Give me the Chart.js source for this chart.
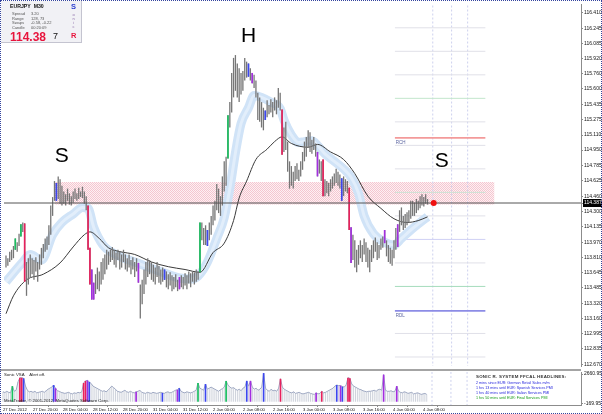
<!DOCTYPE html>
<html>
<head>
<meta charset="utf-8">
<title>EURJPY M30</title>
<script src="https://cdn.jsdelivr.net/npm/chart.js@4.4.1/dist/chart.umd.min.js"></script>
<style>
  html, body { margin: 0; padding: 0; background: #fff; }
  #wrap { position: relative; width: 602px; height: 414px; overflow: hidden; background: #fff;
          font-family: "Liberation Sans", Arial, sans-serif; }
  canvas { position: absolute; left: 0; }
  #graficaPrecio { top: 0; }
  #graficaVolumen { top: 370px; }
  #separador { position: absolute; left: 0; top: 369px; width: 581px; height: 2px; background: #a4a4a4; }
  #marco { position: absolute; left: 0; top: 0; width: 602px; height: 414px; box-sizing: border-box;
           border: 1px dotted #34449e; pointer-events: none; }
  .t { position: absolute; white-space: nowrap; line-height: 1; }
  #info { position: absolute; left: 1px; top: 1px; width: 80px; height: 41px; background: #f1f1f5;
          border-right: 1px solid #c4c4d0; border-bottom: 1px solid #c4c4d0; }
  #info .p { font-size: 4px; color: #555; }
  .tit { font-size: 4.4px; font-weight: bold; color: #333; letter-spacing: 0.25px; }
  .nov { font-size: 3.7px; color: #2424dc; }
  .pie { font-size: 4.3px; color: #222; }
</style>
</head>
<body>
<div id="wrap">
  <canvas id="graficaPrecio" width="602" height="370"></canvas>
  <canvas id="graficaVolumen" width="602" height="44"></canvas>
  <div id="separador"></div>

  <!-- 🧾 Recuadro de información del símbolo -->
  <div id="info">
    <div class="t" style="left:9px;top:3px;font-size:5.2px;font-weight:bold;color:#111">EURJPY&nbsp;&nbsp;M30</div>
    <div class="t" style="left:70px;top:2px;font-size:7.5px;font-weight:bold;color:#2a3ccf">S</div>
    <div class="t p" style="left:11px;top:11px">Spread</div><div class="t p" style="left:30px;top:11px">3.20</div>
    <div class="t p" style="left:11px;top:15.5px">Range</div><div class="t p" style="left:30px;top:15.5px">128, 73</div>
    <div class="t p" style="left:11px;top:20px">Swaps</div><div class="t p" style="left:30px;top:20px">-0.58, -0.22</div>
    <div class="t p" style="left:11px;top:24.5px">Candle</div><div class="t p" style="left:30px;top:24.5px">00:20:09</div>
    <div class="t" style="left:71.5px;top:12px;font-size:4px;color:#8a6aa8">o</div>
    <div class="t" style="left:71.5px;top:16px;font-size:4px;color:#8a6aa8">n</div>
    <div class="t" style="left:72px;top:20px;font-size:4px;color:#8a6aa8">i</div>
    <div class="t" style="left:71.5px;top:24px;font-size:4px;color:#8a6aa8">c</div>
    <div class="t" style="left:9px;top:30px;font-size:12px;font-weight:bold;color:#e8143c">114.38</div>
    <div class="t" style="left:52px;top:31px;font-size:9px;color:#111">7</div>
    <div class="t" style="left:70px;top:31px;font-size:7.5px;font-weight:bold;color:#e8143c">R</div>
  </div>

  <!-- 📰 Textos del panel del indicador -->
  <div class="t pie" style="left:4px;top:373px">Sonic VSA&nbsp;&nbsp;&nbsp;&nbsp;Alert off.</div>
  <div class="t pie" style="left:4px;top:398.5px">MetaTrader, © 2001-2012, MetaQuotes Software Corp.</div>
  <div class="t tit" style="left:476px;top:374.5px">SONIC R. SYSTEM FFCAL HEADLINES:</div>
  <div class="t nov" style="left:476px;top:382px">2 mins since EUR: German Retail Sales m/m</div>
  <div class="t nov" style="left:476px;top:387px">1 hrs 13 mins until EUR: Spanish Services PMI</div>
  <div class="t nov" style="left:476px;top:392px">1 hrs 40 mins until EUR: Italian Services PMI</div>
  <div class="t nov" style="left:476px;top:397px;color:#149a14">1 hrs 50 mins until EUR: Final Services PMI</div>

  <div id="marco"></div>
</div>

<script>
// 📊 Datos (EURJPY M30)
const etiquetasTiempo = ['27 Dec 2012', '27 Dec 20:00', '28 Dec 04:00', '28 Dec 12:00', '28 Dec 20:00',
  '31 Dec 04:00', '31 Dec 12:00', '2 Jan 00:00', '2 Jan 08:00', '2 Jan 16:00', '3 Jan 00:00',
  '3 Jan 08:00', '3 Jan 16:00', '4 Jan 00:00', '4 Jan 08:00'];
const velasPorEtiqueta = 16;

const etiquetasPrecio = [116.410, 116.245, 116.085, 115.920, 115.760, 115.600, 115.435, 115.275,
  115.110, 114.950, 114.785, 114.625, 114.460, 114.300, 114.135, 113.970, 113.810, 113.645,
  113.485, 113.320, 113.160, 112.995, 112.835, 112.670];
const precioActual = 114.387;

const maximos = [
  113.83, 113.80, 113.87, 113.89, 113.93, 114.01, 113.97, 114.06, 114.16, 114.18,
  114.17, 113.76, 113.80, 113.84, 113.80, 113.78, 113.81, 113.76, 113.84, 113.91,
  113.95, 114.01, 114.03, 114.15, 114.36, 114.45, 114.62, 114.60, 114.67, 114.64,
  114.57, 114.51, 114.48, 114.54, 114.49, 114.46, 114.51, 114.54, 114.49, 114.55,
  114.51, 114.56, 114.51, 114.46, 114.36, 113.91, 113.68, 113.54, 113.63, 113.70,
  113.66, 113.76, 113.80, 113.84, 113.89, 113.87, 113.89, 113.92, 113.89, 113.86,
  113.89, 113.87, 113.84, 113.89, 113.84, 113.80, 113.84, 113.78, 113.81, 113.76,
  113.80, 113.75, 113.52, 113.57, 113.68, 113.76, 113.80, 113.78, 113.76, 113.73,
  113.70, 113.76, 113.72, 113.68, 113.70, 113.68, 113.66, 113.63, 113.65, 113.62,
  113.60, 113.63, 113.57, 113.60, 113.62, 113.60, 113.64, 113.62, 113.66, 113.64,
  113.66, 113.65, 113.68, 113.66, 114.18, 114.18, 114.12, 114.15, 114.10, 114.18,
  114.25, 114.36, 114.41, 114.59, 114.54, 114.46, 114.67, 114.83, 114.88, 115.32,
  115.46, 115.77, 115.93, 115.96, 115.87, 115.82, 115.77, 115.79, 115.93, 115.89,
  115.87, 115.82, 115.77, 115.75, 115.69, 115.56, 115.51, 115.46, 115.40, 115.37,
  115.48, 115.43, 115.49, 115.46, 115.51, 115.48, 115.61, 115.56, 115.38, 115.19,
  115.25, 115.04, 114.83, 114.78, 114.72, 114.78, 114.81, 114.74, 114.83, 114.93,
  115.04, 115.09, 115.16, 115.14, 115.06, 115.09, 115.02, 114.93, 114.85, 114.83,
  114.85, 114.64, 114.62, 114.60, 114.64, 114.67, 114.70, 114.75, 114.72, 114.69,
  114.65, 114.67, 114.64, 114.62, 114.55, 114.13, 114.05, 113.99, 113.89, 113.94,
  113.99, 113.94, 114.01, 113.97, 113.91, 113.89, 113.94, 113.99, 114.02, 113.97,
  113.94, 114.01, 114.03, 114.10, 113.99, 113.94, 113.91, 113.89, 113.99, 114.12,
  114.16, 114.31, 114.34, 114.25, 114.27, 114.29, 114.31, 114.41, 114.41, 114.39,
  114.43, 114.41, 114.46, 114.48, 114.45, 114.48, 114.43];

const minimos = [
  113.70, 113.72, 113.76, 113.78, 113.80, 113.89, 113.87, 113.93, 114.03, 114.08,
  113.55, 113.40, 113.52, 113.60, 113.63, 113.57, 113.66, 113.55, 113.68, 113.73,
  113.80, 113.87, 113.89, 113.94, 114.05, 114.25, 114.41, 114.41, 114.43, 114.38,
  114.36, 114.38, 114.36, 114.41, 114.37, 114.36, 114.39, 114.43, 114.41, 114.43,
  114.45, 114.44, 114.38, 114.31, 113.89, 113.52, 113.36, 113.36, 113.42, 113.47,
  113.45, 113.52, 113.57, 113.63, 113.68, 113.73, 113.76, 113.78, 113.73, 113.70,
  113.78, 113.68, 113.70, 113.76, 113.68, 113.66, 113.70, 113.63, 113.68, 113.60,
  113.66, 113.54, 113.16, 113.31, 113.42, 113.52, 113.60, 113.63, 113.57, 113.55,
  113.52, 113.60, 113.54, 113.52, 113.55, 113.57, 113.49, 113.47, 113.51, 113.45,
  113.47, 113.49, 113.45, 113.47, 113.49, 113.47, 113.51, 113.47, 113.53, 113.49,
  113.55, 113.52, 113.55, 113.57, 113.65, 113.99, 113.94, 113.94, 113.93, 113.99,
  114.05, 114.15, 114.20, 114.31, 114.28, 114.25, 114.36, 114.51, 114.57, 114.86,
  115.19, 115.35, 115.51, 115.58, 115.51, 115.46, 115.54, 115.58, 115.69, 115.72,
  115.73, 115.69, 115.66, 115.61, 115.51, 115.27, 115.25, 115.19, 115.16, 115.27,
  115.30, 115.33, 115.35, 115.30, 115.37, 115.33, 115.40, 115.37, 114.90, 114.93,
  114.95, 114.72, 114.54, 114.57, 114.54, 114.62, 114.64, 114.62, 114.67, 114.74,
  114.83, 114.88, 114.98, 114.93, 114.91, 114.95, 114.88, 114.67, 114.70, 114.62,
  114.46, 114.46, 114.49, 114.46, 114.51, 114.54, 114.57, 114.60, 114.57, 114.54,
  114.41, 114.46, 114.51, 114.49, 114.10, 113.75, 113.78, 113.70, 113.65, 113.73,
  113.80, 113.76, 113.84, 113.76, 113.70, 113.65, 113.76, 113.80, 113.87, 113.78,
  113.80, 113.89, 113.91, 113.96, 113.82, 113.76, 113.74, 113.72, 113.80, 113.89,
  113.92, 114.08, 114.15, 114.10, 114.12, 114.15, 114.18, 114.22, 114.25, 114.25,
  114.28, 114.31, 114.33, 114.36, 114.35, 114.38, 114.37];

const volumen = [
  950, 880, 1000, 900, 850, 1500, 1000, 1100, 1900, 2300,
  2300, 2250, 1500, 1100, 950, 1000, 900, 1000, 850, 900,
  950, 1000, 900, 1050, 1200, 1300, 1400, 1600, 1300, 1050,
  1000, 900, 850, 800, 850, 900, 800, 750, 850, 800,
  900, 850, 950, 1800, 2000, 2050, 1900, 1750, 1500, 1400,
  1300, 1200, 1100, 1000, 1050, 950, 1100, 1300, 1500, 1350,
  1200, 1000, 950, 900, 1000, 1100, 950, 900, 1000, 900,
  850, 950, 1000, 1100, 900, 850, 800, 900, 850, 800,
  900, 850, 800, 850, 900, 850, 800, 900, 950, 850,
  900, 1000, 1100, 1150, 1300, 1000, 900, 850, 950, 900,
  850, 900, 1000, 1100, 1800, 1300, 1200, 1100, 1700, 1200,
  1300, 1400, 1300, 1200, 1100, 1000, 1150, 1250, 1400, 2000,
  1600, 1400, 1300, 1350, 1200, 1100, 1200, 1050, 1300, 1400,
  2000, 1500, 2000, 1400, 1200, 1300, 1100, 1200, 1400, 2750,
  1300, 1100, 1000, 1200, 1050, 1100, 1000, 1300, 2200, 1400,
  1200, 1100, 1000, 900, 850, 950, 800, 850, 900, 800,
  750, 800, 850, 900, 800, 750, 700, 850, 750, 800,
  1000, 850, 900, 1000, 1100, 1200, 1300, 1500, 1600, 1550,
  1550, 1450, 1400, 1600, 2300, 2250, 1700, 1500, 1400, 1300,
  1200, 1150, 1050, 1000, 950, 1000, 1000, 1050, 1100, 1000,
  1150, 1200, 1100, 2600, 1100, 1000, 1000, 1050, 950, 1000,
  1500, 1000, 900, 850, 950, 900, 800, 850, 900, 750,
  800, 850, 800, 700, 750, 800, 700];

// 🎨 Señales VSA (g verde, r rojo, b azul, p morado)
const senalVelaIdx = [5, 8, 10, 27, 44, 45, 46, 47, 71, 85, 93, 104, 108, 119, 130, 132, 139, 148, 167, 170, 180, 184, 185, 203, 210];
const senalVelaTipo = ['g', 'g', 'r', 'b', 'r', 'r', 'p', 'p', 'p', 'b', 'p', 'g', 'b', 'g', 'b', 'p', 'b', 'r', 'p', 'r', 'b', 'r', 'p', 'p', 'p'];
const senalVolIdx = [5, 9, 10, 11, 27, 28, 43, 44, 45, 46, 71, 85, 93, 94, 104, 108, 119, 130, 132, 139, 148, 167, 170, 178, 180, 181, 184, 185, 203, 210];
const senalVolTipo = ['g', 'r', 'r', 'b', 'b', 'p', 'r', 'r', 'p', 'b', 'p', 'b', 'p', 'b', 'g', 'b', 'g', 'b', 'p', 'b', 'r', 'p', 'r', 'b', 'p', 'b', 'r', 'r', 'p', 'p'];

// 🐉 Banda "dragon" (EMA 34) y media lenta
const dragonIdx = [0, 9, 13, 19, 25, 30, 36, 41, 44, 47, 52, 57, 62, 69, 77, 84, 93, 100, 103, 108, 113, 117, 120, 123, 126, 130, 133, 137, 142, 147, 149, 153, 157, 160, 164, 167, 171, 176, 181, 185, 189, 192, 197, 203, 208, 212, 217, 222, 226];
const dragonPrecio = [113.55, 113.76, 113.84, 113.78, 114.05, 114.18, 114.27, 114.34, 114.33, 114.13, 113.94, 113.86, 113.81, 113.76, 113.70, 113.65, 113.59, 113.58, 113.61, 113.76, 114.01, 114.23, 114.54, 114.92, 115.23, 115.40, 115.53, 115.51, 115.46, 115.39, 115.27, 115.11, 115.03, 115.04, 115.05, 115.00, 114.91, 114.83, 114.75, 114.66, 114.49, 114.25, 114.06, 113.97, 113.94, 114.01, 114.10, 114.18, 114.24];
const mediaIdx = [0, 4, 11, 20, 29, 36, 42, 45, 50, 55, 61, 69, 78, 87, 96, 104, 111, 117, 122, 125, 129, 134, 140, 144, 148, 153, 162, 167, 174, 181, 187, 194, 201, 208, 215, 221, 226];
const mediaPrecio = [113.21, 113.40, 113.57, 113.63, 113.75, 113.92, 114.05, 114.08, 114.01, 113.91, 113.87, 113.84, 113.76, 113.71, 113.68, 113.65, 113.86, 113.96, 114.20, 114.44, 114.62, 114.85, 114.96, 115.04, 115.09, 115.02, 114.98, 115.01, 114.93, 114.85, 114.70, 114.46, 114.33, 114.22, 114.18, 114.20, 114.24];

// 📏 Niveles de la derecha, zona de resistencia y marcas
const nivelesPrecio = [116.25, 116.00, 115.75, 115.50, 115.25, 115.00, 114.75, 114.50, 114.25, 114.00, 113.75, 113.50, 113.00, 112.75];
const rch = 115.08;
const rdl = 113.24;
const nivelDesde = 208.5, nivelHasta = 257;
const zonaAlta = 114.61, zonaBaja = 114.37, zonaDesde = 26.1, zonaHasta = 261.9;
const verticalesIdx = [228.8, 238.9, 247.5];
const puntoIdx = 229.3;
const letrasHS = ['S', 'H', 'S'];
const letrasIdx = [29.9, 130.1, 233.6];
const letrasPrecio = [114.88, 116.16, 114.83];
const rotulosNivel = ['RCH', 'RDL'];
const rotulosIdx = [209, 209];
const rotulosPrecio = [115.03, 113.19];
const ticksVolumen = [2660.95, -169.95];

// 🔧 Estilos
const coloresSenal = { g: '#19c060', r: '#e8205c', b: '#3c46f0', p: '#a32ee0' };
const colorNivel = { 115.5: '#c2e6cc', 114.5: '#cde2d4', 114: '#cfd0f4', 113.5: '#a6dcbc' };
const FUENTE = '"Liberation Sans", Arial, sans-serif';
const X_MIN = -1.067, X_MAX = 308.27;

Chart.defaults.font.family = FUENTE;
Chart.defaults.animation = false;
Chart.defaults.events = [];
Chart.defaults.plugins.legend.display = false;
Chart.defaults.plugins.tooltip.enabled = false;

function tramaRosa() {
  const c = document.createElement('canvas');
  c.width = 2; c.height = 2;
  const g = c.getContext('2d');
  g.fillStyle = '#fdf1f3'; g.fillRect(0, 0, 2, 2);
  g.fillStyle = '#f5c6d0'; g.fillRect(0, 0, 1, 1); g.fillRect(1, 1, 1, 1);
  return g.createPattern(c, 'repeat');
}

const linea = (puntos, color, ancho, extra) => Object.assign({
  type: 'line', data: puntos, borderColor: color, borderWidth: ancho,
  pointRadius: 0, fill: false
}, extra || {});

// 🕯️ Velas como barras flotantes mínimo-máximo
const velas = maximos.map((h, i) => ({ x: i, y: [minimos[i], h] }));
const velasColor = senalVelaIdx.map(i => ({ x: i, y: [minimos[i], maximos[i]] }));
const coloresVelas = senalVelaTipo.map(t => coloresSenal[t]);

const datasetsNiveles = nivelesPrecio.map(p => linea(
  [{ x: nivelDesde, y: p }, { x: nivelHasta, y: p }], colorNivel[p] || '#e0e0e8', 1, { order: 18 }));
datasetsNiveles.push(linea([{ x: nivelDesde, y: rch }, { x: nivelHasta, y: rch }], '#f39a9a', 1.6, { order: 17 }));
datasetsNiveles.push(linea([{ x: nivelDesde, y: rdl }, { x: nivelHasta, y: rdl }], '#8c8ce6', 1.6, { order: 17 }));

const verticales = (ymin, ymax) => verticalesIdx.map(v => linea(
  [{ x: v, y: ymin }, { x: v, y: ymax }], '#cdd1ee', 1, { borderDash: [2, 2], order: 19 }));

const rotulos = {
  id: 'rotulos',
  afterDatasetsDraw(chart) {
    const { ctx, scales: { x, y } } = chart;
    ctx.save();
    ctx.fillStyle = '#000';
    ctx.textAlign = 'center';
    ctx.textBaseline = 'middle';
    ctx.font = '21px ' + FUENTE;
    letrasHS.forEach((t, k) => ctx.fillText(t, x.getPixelForValue(letrasIdx[k]), y.getPixelForValue(letrasPrecio[k])));
    ctx.fillStyle = '#5a64a0';
    ctx.textAlign = 'left';
    ctx.font = '4.5px ' + FUENTE;
    rotulosNivel.forEach((t, k) => ctx.fillText(t, x.getPixelForValue(rotulosIdx[k]), y.getPixelForValue(rotulosPrecio[k])));
    ctx.restore();
  }
};

const sinRelleno = s => { s.paddingTop = 0; s.paddingBottom = 0; s.paddingLeft = 0; s.paddingRight = 0; };

// 📈 Gráfico de precio
new Chart(document.getElementById('graficaPrecio'), {
  type: 'bar',
  data: {
    datasets: [
      linea([{ x: zonaDesde, y: zonaAlta }, { x: zonaHasta, y: zonaAlta }], 'rgba(0,0,0,0)', 0,
        { fill: '+1', backgroundColor: tramaRosa(), order: 20 }),
      linea([{ x: zonaDesde, y: zonaBaja }, { x: zonaHasta, y: zonaBaja }], 'rgba(0,0,0,0)', 0, { order: 20 }),
      ...datasetsNiveles,
      ...verticales(112, 117),
      linea(dragonIdx.map((v, k) => ({ x: v, y: dragonPrecio[k] })), '#d0e3f7', 9,
        { cubicInterpolationMode: 'monotone', order: 12 }),
      linea(dragonIdx.map((v, k) => ({ x: v, y: dragonPrecio[k] })), '#e2eefb', 3,
        { cubicInterpolationMode: 'monotone', order: 11 }),
      linea(mediaIdx.map((v, k) => ({ x: v, y: mediaPrecio[k] })), '#3a3a3a', 1,
        { cubicInterpolationMode: 'monotone', order: 10 }),
      { type: 'bar', data: velas, backgroundColor: '#767676', grouped: false, maxBarThickness: 1.3, order: 6 },
      { type: 'bar', data: velasColor, backgroundColor: coloresVelas, grouped: false, barPercentage: 1.1, maxBarThickness: 2, order: 5 },
      linea([{ x: X_MIN, y: precioActual }, { x: X_MAX, y: precioActual }], '#555', 1, { order: 3 }),
      { type: 'line', data: [{ x: puntoIdx, y: precioActual }], showLine: false, pointRadius: 3,
        pointBackgroundColor: '#f01010', pointBorderWidth: 0, order: 2 }
    ]
  },
  options: {
    responsive: false,
    devicePixelRatio: 1,
    layout: { padding: { left: 1, top: 1, right: 0, bottom: 1 } },
    scales: {
      x: { type: 'linear', min: X_MIN, max: X_MAX, offset: false, display: false },
      y: {
        type: 'linear', position: 'right', min: 112.654, max: 116.503, beginAtZero: false,
        afterBuildTicks(s) { s.ticks = etiquetasPrecio.concat([precioActual]).map(v => ({ value: v })); },
        afterFit(s) { s.width = 21; sinRelleno(s); },
        border: { color: '#8c8c8c' },
        grid: { drawOnChartArea: false, tickLength: 2, color: '#8c8c8c' },
        ticks: {
          autoSkip: false, padding: 1,
          font: { size: 5 },
          color: c => (c.tick && c.tick.value === precioActual) ? '#fff' : '#111',
          showLabelBackdrop: c => !!(c.tick && c.tick.value === precioActual),
          backdropColor: '#000',
          backdropPadding: { top: 1, bottom: 1, left: 1, right: 2 },
          callback: v => v.toFixed(3)
        }
      }
    }
  },
  plugins: [rotulos]
});

// 📊 Panel del indicador Sonic VSA
const volGris = volumen.map((v, i) => ({ x: i, y: v }));
const volColor = senalVolIdx.map(i => ({ x: i, y: volumen[i] }));

new Chart(document.getElementById('graficaVolumen'), {
  type: 'bar',
  data: {
    datasets: [
      ...verticales(-400, 3000),
      { type: 'bar', data: volGris, backgroundColor: '#cfd3dc', grouped: false, maxBarThickness: 1, order: 8 },
      linea(volGris, '#9ea8c2', 1, { order: 7 }),
      { type: 'bar', data: volColor, backgroundColor: senalVolTipo.map(t => coloresSenal[t]), grouped: false,
        barPercentage: 1.1, maxBarThickness: 2, order: 5 }
    ]
  },
  options: {
    responsive: false,
    devicePixelRatio: 1,
    layout: { padding: { left: 1, top: 2, right: 0, bottom: 0 } },
    scales: {
      x: {
        type: 'linear', min: X_MIN, max: X_MAX, offset: false,
        afterBuildTicks(s) { s.ticks = etiquetasTiempo.map((_, k) => ({ value: k * velasPorEtiqueta })); },
        afterFit(s) { s.height = 9; sinRelleno(s); },
        border: { color: '#8c8c8c' },
        grid: { drawOnChartArea: false, tickLength: 2, color: '#8c8c8c' },
        ticks: {
          autoSkip: false, maxRotation: 0, minRotation: 0, align: 'start', padding: 0,
          font: { size: 4.2 }, color: '#111',
          callback: (v, k) => etiquetasTiempo[k]
        }
      },
      y: {
        type: 'linear', position: 'right', min: -314, max: 2853, beginAtZero: false,
        afterBuildTicks(s) { s.ticks = ticksVolumen.map(v => ({ value: v })); },
        afterFit(s) { s.width = 21; sinRelleno(s); },
        border: { color: '#8c8c8c' },
        grid: { drawOnChartArea: false, tickLength: 2, color: '#8c8c8c' },
        ticks: { autoSkip: false, padding: 1, font: { size: 5 }, color: '#111', callback: v => v.toFixed(2) }
      }
    }
  }
});
</script>
</body>
</html>
